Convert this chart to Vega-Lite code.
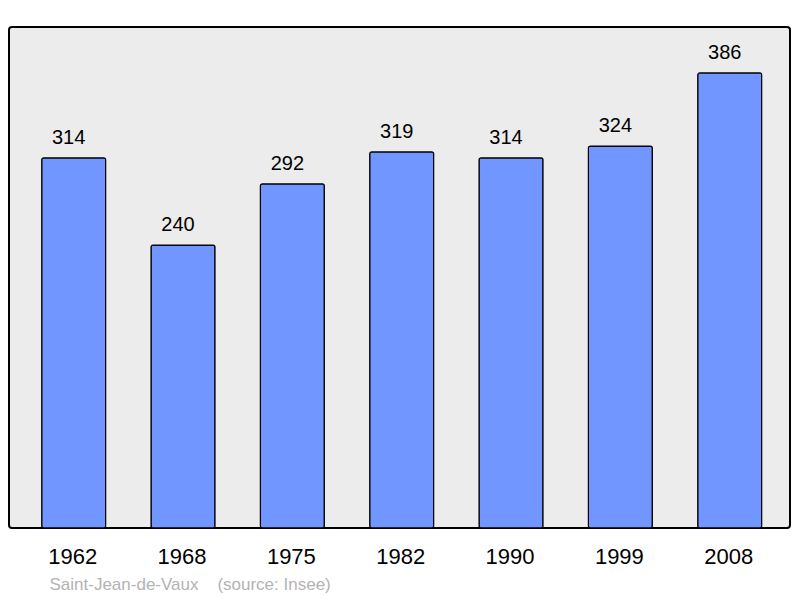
{
  "$schema": "https://vega.github.io/schema/vega-lite/v6.json",
  "width": 781,
  "height": 501,
  "autosize": {"type": "none"},
  "padding": {"left": 9, "top": 27, "right": 10, "bottom": 70},
  "background": "white",
  "config": {
    "view": {"fill": "#ececec", "stroke": "#000000", "strokeWidth": 2, "cornerRadius": 3},
    "font": "Liberation Sans"
  },
  "data": {
    "values": [
      {"year": "1962", "pop": 314},
      {"year": "1968", "pop": 240},
      {"year": "1975", "pop": 292},
      {"year": "1982", "pop": 319},
      {"year": "1990", "pop": 314},
      {"year": "1999", "pop": 324},
      {"year": "2008", "pop": 386}
    ]
  },
  "encoding": {
    "x": {
      "field": "year",
      "type": "ordinal",
      "scale": {"paddingInner": 0.415, "paddingOuter": 0.279, "align": 0.536},
      "axis": {
        "title": "Saint-Jean-de-Vaux\u00a0\u00a0\u00a0\u00a0(source: Insee)",
        "titleFont": "Liberation Sans",
        "titleFontSize": 17,
        "titleFontWeight": "normal",
        "titleColor": "#b3b3b3",
        "titleAnchor": "start",
        "titleAlign": "left",
        "titleBaseline": "alphabetic",
        "titleX": 40,
        "titleY": 61,
        "labelAngle": 0,
        "labelFont": "Liberation Sans",
        "labelFontSize": 22,
        "labelColor": "#000000",
        "labelBaseline": "alphabetic",
        "labelPadding": 35,
        "labelOffset": -1,
        "ticks": false,
        "domain": false
      }
    },
    "y": {
      "field": "pop",
      "type": "quantitative",
      "scale": {"domain": [0, 425]},
      "axis": null
    }
  },
  "layer": [
    {
      "mark": {"type": "bar", "fill": "#7196ff", "stroke": "#000000", "strokeWidth": 1.2, "cornerRadius": 2}
    },
    {
      "mark": {"type": "text", "baseline": "alphabetic", "dy": -14, "dx": -5, "fontSize": 20, "font": "Liberation Sans", "color": "#000000"},
      "encoding": {"text": {"field": "pop", "type": "quantitative"}}
    }
  ]
}
